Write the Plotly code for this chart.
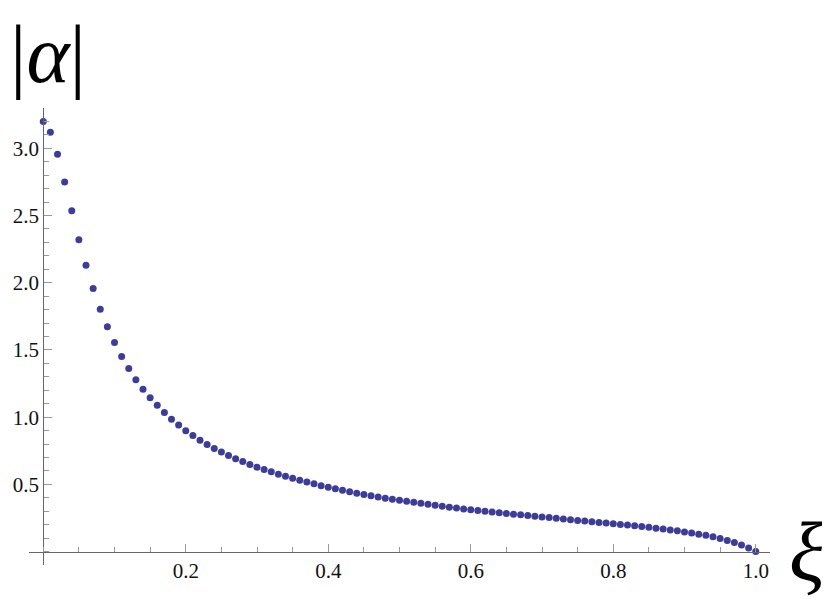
# |alpha| as a function of xi, Mathematica ListPlot style
import plotly.graph_objects as go

# Sample positions (step 0.01)
xi = [
    0.00, 0.01, 0.02, 0.03, 0.04, 0.05, 0.06, 0.07, 0.08, 0.09,
    0.10, 0.11, 0.12, 0.13, 0.14, 0.15, 0.16, 0.17, 0.18, 0.19,
    0.20, 0.21, 0.22, 0.23, 0.24, 0.25, 0.26, 0.27, 0.28, 0.29,
    0.30, 0.31, 0.32, 0.33, 0.34, 0.35, 0.36, 0.37, 0.38, 0.39,
    0.40, 0.41, 0.42, 0.43, 0.44, 0.45, 0.46, 0.47, 0.48, 0.49,
    0.50, 0.51, 0.52, 0.53, 0.54, 0.55, 0.56, 0.57, 0.58, 0.59,
    0.60, 0.61, 0.62, 0.63, 0.64, 0.65, 0.66, 0.67, 0.68, 0.69,
    0.70, 0.71, 0.72, 0.73, 0.74, 0.75, 0.76, 0.77, 0.78, 0.79,
    0.80, 0.81, 0.82, 0.83, 0.84, 0.85, 0.86, 0.87, 0.88, 0.89,
    0.90, 0.91, 0.92, 0.93, 0.94, 0.95, 0.96, 0.97, 0.98, 0.99,
    1.00,
]

# |alpha| values
alpha_abs = [
    3.200, 3.120, 2.955, 2.750, 2.535, 2.320, 2.130, 1.957, 1.803, 1.672,
    1.555, 1.451, 1.362, 1.279, 1.207, 1.145, 1.088, 1.034, 0.984, 0.941,
    0.899, 0.864, 0.829, 0.797, 0.767, 0.741, 0.715, 0.691, 0.670, 0.648,
    0.628, 0.610, 0.593, 0.575, 0.560, 0.545, 0.530, 0.517, 0.504, 0.490,
    0.478, 0.467, 0.456, 0.445, 0.434, 0.425, 0.415, 0.406, 0.397, 0.390,
    0.382, 0.374, 0.366, 0.359, 0.352, 0.345, 0.337, 0.330, 0.324, 0.317,
    0.311, 0.305, 0.300, 0.294, 0.288, 0.283, 0.278, 0.273, 0.268, 0.263,
    0.258, 0.253, 0.248, 0.242, 0.237, 0.232, 0.227, 0.222, 0.217, 0.212,
    0.207, 0.202, 0.197, 0.192, 0.186, 0.180, 0.174, 0.168, 0.161, 0.154,
    0.146, 0.138, 0.129, 0.121, 0.110, 0.097, 0.083, 0.067, 0.048, 0.026,
    0.000,
]

# Tick marks
x_ticks = [0.2, 0.4, 0.6, 0.8, 1.0]
x_labels = ['0.2', '0.4', '0.6', '0.8', '1.0']
y_ticks = [0.5, 1.0, 1.5, 2.0, 2.5, 3.0]
y_labels = ['0.5', '1.0', '1.5', '2.0', '2.5', '3.0']

x_range = [-0.02, 1.02]
y_range = [-0.1, 3.3]

fonte = 'Liberation Serif, Times New Roman, serif'
cor_ponto = '#3d3d99'

fig = go.Figure()
fig.add_trace(go.Scatter(
    x=xi, y=alpha_abs, mode='markers',
    marker=dict(size=7, color=cor_ponto, line=dict(width=0)),
    showlegend=False, hoverinfo='x+y',
))

# Axes cross at the origin, like Mathematica's default
eixo_comum = dict(
    showgrid=False, zeroline=False, showline=True, automargin=False,
    linecolor='#666666', linewidth=1,
    ticks='inside', ticklen=8, tickwidth=1, tickcolor='#999999',
    tickfont=dict(family=fonte, size=21, color='#111111'),
    anchor='free',
)

# the page body adds 8px around the div, so margins are 8px smaller
fig.update_layout(
    width=830, height=601,
    paper_bgcolor='white', plot_bgcolor='white',
    margin=dict(l=21, r=68, t=100, b=44),
    xaxis=dict(
        range=x_range, tickvals=x_ticks, ticktext=x_labels,
        position=(0 - y_range[0]) / (y_range[1] - y_range[0]),
        minor=dict(ticks='inside', dtick=0.05, ticklen=5, tickcolor='#999999'),
        **eixo_comum,
    ),
    yaxis=dict(
        range=y_range, tickvals=y_ticks, ticktext=y_labels,
        position=(0 - x_range[0]) / (x_range[1] - x_range[0]),
        minor=dict(ticks='inside', dtick=0.1, ticklen=5, tickcolor='#999999'),
        **eixo_comum,
    ),
    annotations=[
        dict(text='|<i>α</i>|', x=-0.027, y=1 + 100 / 457, xref='paper', yref='paper',
             xanchor='left', yanchor='top', showarrow=False, borderpad=0,
             font=dict(family=fonte, size=82, color='black')),
        dict(text='<i>ξ</i>', x=1.050, y=0.03, xref='paper', yref='paper',
             xanchor='center', yanchor='middle', showarrow=False,
             font=dict(family=fonte, size=84, color='black')),
    ],
)

fig.write_html('out.html')
